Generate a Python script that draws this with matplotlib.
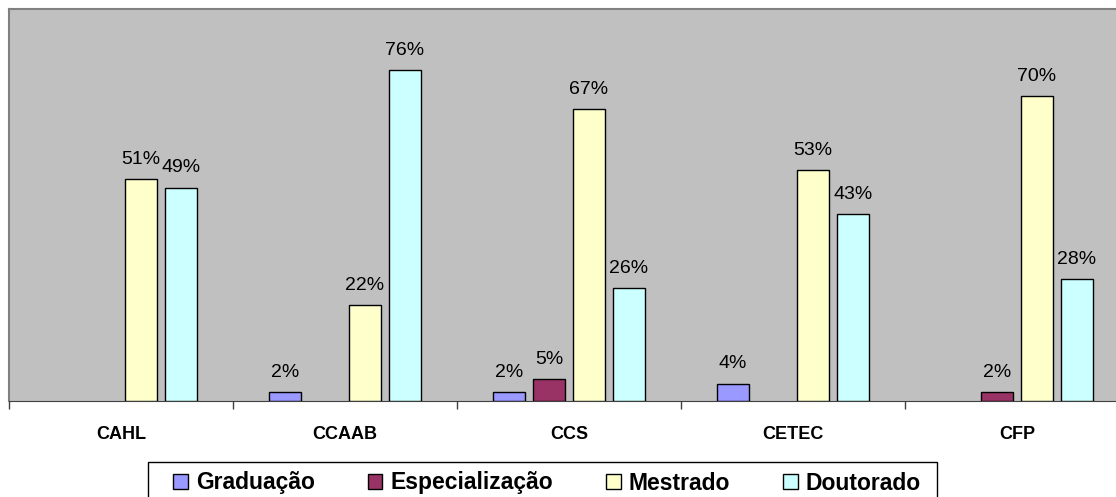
import numpy as np
import matplotlib
matplotlib.use('Agg')
import matplotlib.pyplot as plt
from matplotlib.patches import Rectangle
from matplotlib.ticker import FixedLocator, NullFormatter, FixedFormatter

plt.rcParams['font.family'] = ['Liberation Sans', 'DejaVu Sans']

# data
centros = ['CAHL', 'CCAAB', 'CCS', 'CETEC', 'CFP']
series = ['Graduação', 'Especialização', 'Mestrado', 'Doutorado']
graduacao = [0.00, 0.02, 0.02, 0.04, 0.00]
especializacao = [0.00, 0.00, 0.05, 0.00, 0.02]
mestrado = [0.51, 0.22, 0.67, 0.53, 0.70]
doutorado = [0.49, 0.76, 0.26, 0.43, 0.28]
cores = ['#9999FF', '#993366', '#FFFFCC', '#CCFFFF']

W, H = 1116, 497
fig = plt.figure(figsize=(W / 100, H / 100), dpi=100)
fig.patch.set_facecolor('white')

# plot area runs a bit past the right edge, like the original
ax = fig.add_axes([9 / W, (H - 401) / H, 1120 / W, 392 / H])
ax.set_facecolor('#C0C0C0')

largura = 32 / 224
passo = 40 / 224
x = np.arange(len(centros)) + 0.5

valores = [graduacao, especializacao, mestrado, doutorado]
for k, (nome, vals, cor) in enumerate(zip(series, valores, cores)):
    vals = np.array(vals, dtype=float)
    pos = x + (k - 1.5) * passo
    alt = np.where(vals > 0, vals, np.nan)
    ax.bar(pos, alt, width=largura, color=cor, edgecolor='black',
           linewidth=1, label=nome, zorder=3)
    for px, v in zip(pos, vals):
        if v > 0:
            ax.annotate('%d%%' % round(v * 100), (px, v), xytext=(0, 8),
                        textcoords='offset points', ha='center', va='bottom',
                        fontsize=14, color='black')

ax.set_xlim(0, len(centros))
ax.set_ylim(0, 0.9)
ax.set_yticks([])

ax.xaxis.set_major_locator(FixedLocator(np.arange(len(centros) + 1)))
ax.xaxis.set_major_formatter(NullFormatter())
ax.xaxis.set_minor_locator(FixedLocator(x))
ax.xaxis.set_minor_formatter(FixedFormatter(centros))
ax.tick_params(axis='x', which='major', length=6, width=1, color='#404040')
ax.tick_params(axis='x', which='minor', length=0, pad=18, labelsize=13)
for lab in ax.xaxis.get_minorticklabels():
    lab.set_fontweight('bold')

ax.spines['top'].set_color('#808080')
ax.spines['left'].set_color('#808080')
ax.spines['top'].set_linewidth(1.5)
ax.spines['left'].set_linewidth(1.5)
ax.spines['bottom'].set_color('#404040')
ax.spines['right'].set_visible(False)

# legend box, cut off by the bottom edge
fig.patches.append(Rectangle((148 / W, -0.05), (937 - 148) / W, 0.05 + (H - 462) / H,
                             transform=fig.transFigure, facecolor='white',
                             edgecolor='black', linewidth=1, zorder=1))
leg = fig.legend(loc='center left', bbox_to_anchor=(173 / W, 1 - 483 / H),
                 ncol=4, frameon=False, handlelength=0.65,
                 handleheight=0.65, handletextpad=0.35, columnspacing=2.3,
                 borderpad=0, borderaxespad=0,
                 prop={'weight': 'bold', 'size': 16.5})
leg.set_zorder(2)

fig.savefig('out.png', dpi=100)
